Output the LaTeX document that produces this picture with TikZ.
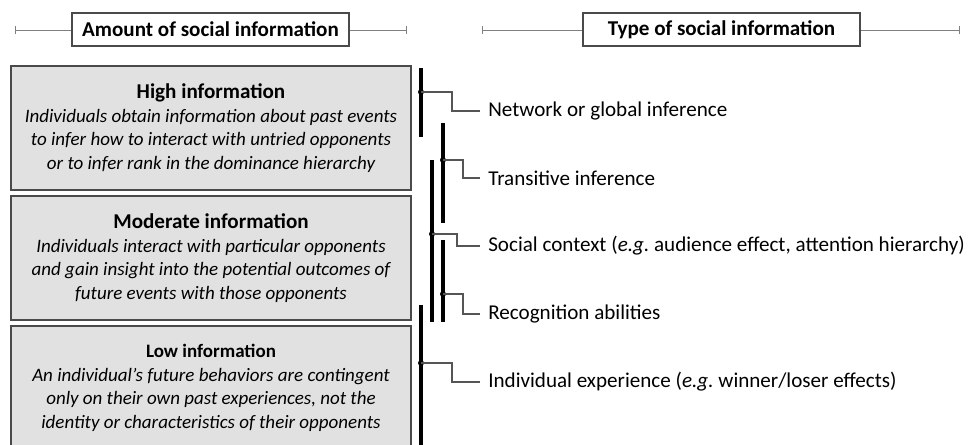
\documentclass[tikz,border=0pt]{standalone}
\usepackage{fontspec}
\setmainfont{Carlito}
\usetikzlibrary{positioning}
\usetikzlibrary{arrows.meta}

\definecolor{boxgray}{HTML}{E1E1E1}
\definecolor{edgegray}{HTML}{4A4A4A}
\definecolor{linkgray}{HTML}{555555}
\definecolor{rulegray}{HTML}{808080}

\tikzset{
  header/.style={draw=edgegray,line width=1.1pt,fill=white,minimum width=6.925cm,minimum height=0.825cm,inner sep=0pt,font=\fontsize{15}{18}\selectfont\bfseries},
  infobox/.style={draw=edgegray,line width=1.1pt,fill=boxgray,minimum width=10cm,minimum height=3.1cm,align=center,font=\fontsize{13.5}{16.7}\selectfont\itshape},
  infolabel/.style={anchor=west,inner sep=0pt,font=\fontsize{15}{18}\selectfont\frenchspacing},
  bar/.style={line width=2.7pt},
  link/.style={draw=linkgray,line width=0.8pt},
  headrule/.style={draw=rulegray,line width=0.7pt,{Bar[width=1.8mm]}-{Bar[width=1.8mm]}},
}

\begin{document}
\begin{tikzpicture}[x=0.025cm,y=-0.025cm]
\clip (0,0) rectangle (973,445);

% column headers
\draw[headrule] (15,30) -- (407,30);
\node[header] (amount) at (210.5,29.5) {Amount of social information};
\draw[headrule] (482,30) -- (960,30);
\node[header] (type) at (721.5,29.5) {Type of social information};

% amount of information
\node[infobox] (high) at (211,128) {\textup{\bfseries\fontsize{15}{16.7}\selectfont High information}\\
Individuals obtain information about past events\\
to infer how to interact with untried opponents\\
or to infer rank in the dominance hierarchy};
\node[infobox] (moderate) at (211,258) {\textup{\bfseries\fontsize{15}{16.7}\selectfont Moderate information}\\
Individuals interact with particular opponents\\
and gain insight into the potential outcomes of\\
future events with those opponents};
\node[infobox] (low) at (211,388) {\textup{\bfseries Low information}\\
An individual's future behaviors are contingent\\
only on their own past experiences, not the\\
identity or characteristics of their opponents};

% ranges of the information types
\draw[bar] (421,68) -- (421,137);
\draw[bar] (443,123) -- (443,223);
\draw[bar] (432,160) -- (432,322);
\draw[bar] (443,240) -- (443,322);
\draw[bar] (421,305) -- (421,450);

\coordinate (dnet) at (421,92);
\coordinate (dtrans) at (443,160);
\coordinate (dsocial) at (432,234);
\coordinate (drecog) at (443,294);
\coordinate (dindiv) at (421,363);
\foreach \d in {dnet,dtrans,dsocial,drecog,dindiv}
  \fill (\d) circle (0.75mm);

\node[infolabel] (netw) at (488,111) {Network or global inference};
\node[infolabel] (trans) at (488,178) {Transitive inference};
\node[infolabel] (social) at (488,246) {Social context (\textit{e.g.} audience effect, attention hierarchy)};
\node[infolabel] (recog) at (488,314) {Recognition abilities};
\node[infolabel] (indiv) at (488,382) {Individual experience (\textit{e.g.} winner/loser effects)};

\draw[link] (dnet) -| ([xshift=-9mm]netw.west) -- ([xshift=-2mm]netw.west);
\draw[link] (dtrans) -| ([xshift=-6.25mm]trans.west) -- ([xshift=-2mm]trans.west);
\draw[link] (dsocial) -| ([xshift=-7.75mm]social.west) -- ([xshift=-2mm]social.west);
\draw[link] (drecog) -| ([xshift=-6.25mm]recog.west) -- ([xshift=-2mm]recog.west);
\draw[link] (dindiv) -| ([xshift=-9mm]indiv.west) -- ([xshift=-2mm]indiv.west);

\end{tikzpicture}
\end{document}
